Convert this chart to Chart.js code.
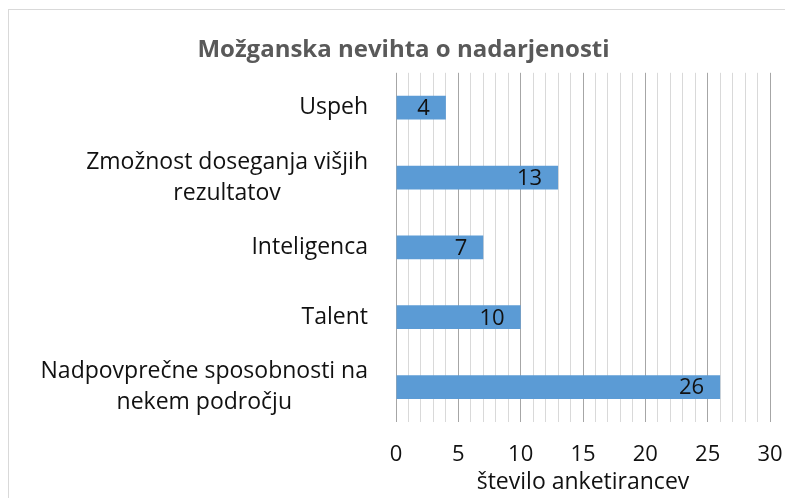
<!DOCTYPE html>
<html>
<head>
    <meta charset="utf-8">
    <title>Možganska nevihta o nadarjenosti</title>
    <style>
        html, body { margin: 0; padding: 0; overflow: hidden; background: #fff; }
        #wrap { position: relative; width: 785px; height: 498px; }
        #frame { position: absolute; left: 8px; top: 9px; right: 0; bottom: 0;
                 border-left: 1px solid #d9d9d9; border-top: 1px solid #d9d9d9; pointer-events: none; }
    </style>
</head>
<body>
    <div id="wrap">
        <canvas id="myChart"></canvas>
        <div id="frame"></div>
    </div>

    <script src="https://cdn.jsdelivr.net/npm/chart.js"></script>

    <script>
        // data
        const categories = [
            ['Uspeh'],
            ['Zmožnost doseganja višjih', 'rezultatov'],
            ['Inteligenca'],
            ['Talent'],
            ['Nadpovprečne sposobnosti na', 'nekem področju']
        ];
        const counts = [4, 13, 7, 10, 26];
        const xTicks = [0, 5, 10, 15, 20, 25, 30];

        const FONT = "'Open Sans', sans-serif";
        const ctx = document.getElementById('myChart');

        // category labels: block right aligned, lines centred inside the block
        const catLabels = {
            id: 'catLabels',
            afterDraw(chart) {
                const c = chart.ctx;
                const sc = chart.scales.y;
                const right = chart.chartArea.left - 28;
                c.save();
                c.font = '23px ' + FONT;
                c.fillStyle = '#111';
                c.textBaseline = 'middle';
                c.textAlign = 'center';
                categories.forEach((lines, i) => {
                    const y = sc.getPixelForTick(i);
                    const w = Math.max(...lines.map(l => c.measureText(l).width));
                    const cx = right - w / 2;
                    const lh = 31;
                    lines.forEach((l, k) => {
                        c.fillText(l, cx, y + (k - (lines.length - 1) / 2) * lh);
                    });
                });
                c.restore();
            }
        };

        // value labels inside end of bars
        const valLabels = {
            id: 'valLabels',
            afterDatasetsDraw(chart) {
                const c = chart.ctx;
                c.save();
                c.font = '22px ' + FONT;
                c.fillStyle = '#111';
                c.textAlign = 'right';
                c.textBaseline = 'middle';
                chart.getDatasetMeta(0).data.forEach((bar, i) => {
                    c.fillText(counts[i], bar.x - 16, bar.y + 1);
                });
                c.restore();
            }
        };

        new Chart(ctx, {
            type: 'bar',
            data: {
                labels: categories,
                datasets: [{
                    data: counts,
                    backgroundColor: '#5b9bd5',
                    borderWidth: 0,
                    categoryPercentage: 1,
                    barPercentage: 0.34
                }]
            },
            options: {
                indexAxis: 'y',
                responsive: true,
                maintainAspectRatio: false,
                animation: false,
                layout: { padding: { left: 22, right: 0, top: 0, bottom: 2 } },
                plugins: {
                    legend: { display: false },
                    tooltip: { enabled: false },
                    title: {
                        display: true,
                        text: 'Možganska nevihta o nadarjenosti',
                        color: '#595959',
                        font: { family: FONT, size: 24, weight: 'bold' },
                        padding: { top: 36, bottom: 8 }
                    }
                },
                scales: {
                    x: {
                        min: 0,
                        max: 30,
                        border: { display: false },
                        grid: {
                            drawTicks: false,
                            color: c => (c.tick && xTicks.includes(c.tick.value)) ? '#a6a6a6' : '#d9d9d9'
                        },
                        ticks: {
                            stepSize: 1,
                            autoSkip: false,
                            maxRotation: 0,
                            padding: 20,
                            color: '#111',
                            font: { family: FONT, size: 22 },
                            callback: v => xTicks.includes(v) ? v : ''
                        },
                        title: {
                            display: true,
                            text: 'število anketirancev',
                            color: '#111',
                            font: { family: FONT, size: 23 },
                            // tick padding is counted twice in the axis height, take it back here
                            padding: { top: -20, bottom: 0 }
                        },
                        // tick padding also ends up in the right gap
                        afterFit: s => { s.paddingRight = 15; }
                    },
                    y: {
                        border: { display: false },
                        grid: { display: false },
                        ticks: { display: false },
                        afterFit: s => { s.width = 374; }
                    }
                }
            },
            plugins: [catLabels, valLabels]
        });
    </script>
</body>
</html>
